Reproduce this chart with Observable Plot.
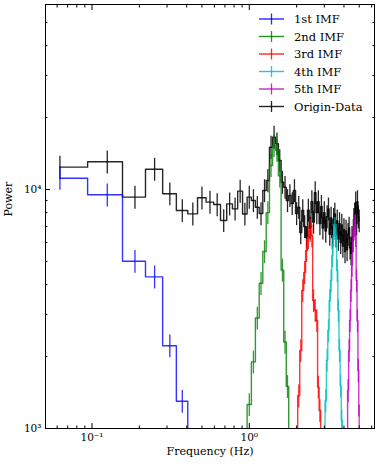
<!DOCTYPE html>
<html>
<head>
<meta charset="utf-8">
<script src="https://cdn.jsdelivr.net/npm/d3@7"></script>
<script src="https://cdn.jsdelivr.net/npm/@observablehq/plot@0.6"></script>
<style>
  html, body { margin: 0; padding: 0; background: #fff; }
  svg { display: block; }
</style>
</head>
<body>
<div id="chart"></div>
<script>
// ---- Data ----
const freqData = [0.0625,0.125,0.1875,0.25,0.3125,0.375,0.4375,0.5,0.5625,0.625,0.6875,0.75,0.8125,0.875,0.9375,1.0,
  1.0625,1.125,1.1875,1.25,1.3125,1.375,1.4375,1.5,1.5625,1.625,1.6875,1.75,1.8125,1.875,1.9375,2.0,
  2.0625,2.125,2.1875,2.25,2.3125,2.375,2.4375,2.5,2.5625,2.625,2.6875,2.75,2.8125,2.875,2.9375,3.0,
  3.0625,3.125,3.1875,3.25,3.3125,3.375,3.4375,3.5,3.5625,3.625,3.6875,3.75,3.8125,3.875,3.9375,4.0,
  4.0625,4.125,4.1875,4.25,4.3125,4.375,4.4375,4.5,4.5625,4.625,4.6875,4.75,4.8125,4.875,4.9375,5.0];
const powerData = [12400,13060,9290,12160,9600,8170,7910,9230,8850,8650,7420,8710,8300,9840,7900,9290,
  8990,8430,7930,9900,10900,15030,16550,15540,13220,10730,10220,8990,9440,8740,9900,7930,
  8430,6600,8170,7000,6300,8200,6900,8900,7300,9700,8000,8900,7200,8500,6900,8000,
  6700,7700,8300,6500,7600,6300,7500,7900,6400,7400,6200,7200,6000,7100,5800,6800,
  5500,6700,5600,6500,6900,5700,5400,6300,6100,7500,7900,8800,7200,8900,7700,7400];

const freqImf1 = [0.0625,0.125,0.1875,0.25,0.3125,0.375,0.4375,0.5];
const powerImf1 = [11150,9500,5010,4310,2220,1300,600,350];

const freqImf2 = [0.9375,1.0,1.0625,1.125,1.1875,1.25,1.3125,1.375,1.4375,1.5,1.5625,1.625,1.6875,1.75,1.8125];
const powerImf2 = [700,1260,1900,2900,4050,5500,8000,12600,15300,14600,11400,4600,2300,1500,700];

const freqImf3 = [2.0,2.0625,2.125,2.1875,2.25,2.3125,2.375,2.4375,2.5,2.5625,2.625,2.6875,2.75,2.8125,2.875];
const powerImf3 = [700,1370,2120,3780,4500,5560,6300,6740,6400,3430,3120,2830,1490,1190,700];

const freqImf4 = [3.0,3.0625,3.125,3.1875,3.25,3.3125,3.375,3.4375,3.5,3.5625,3.625,3.6875,3.75,3.8125,3.875,3.9375];
const powerImf4 = [700,1310,1930,2570,3430,4160,5290,6430,6870,6430,4580,3120,2120,1510,1080,700];

const freqImf5 = [4.1875,4.25,4.3125,4.375,4.4375,4.5,4.5625,4.625,4.6875,4.75,4.8125,4.875,4.9375,5.0];
const powerImf5 = [700,1440,2120,2830,3780,4810,6120,6870,7070,6430,4160,2830,1750,1130];

const errFraction = 0.11;   // relative error of each power estimate

const seriesNames = ["1st IMF","2nd IMF","3rd IMF","4th IMF","5th IMF","Origin-Data"];
const seriesColors = ["#0000ff","#008000","#ff0000","#00bfbf","#bf00bf","#000000"];

const xMajorTicks = [0.1, 1];
const xMinorTicks = [0.06,0.07,0.08,0.09,0.2,0.3,0.4,0.5,0.6,0.7,0.8,0.9,2,3,4,5,6];
const yMajorTicks = [1000, 10000];
const yMinorTicks = [2000,3000,4000,5000,6000,7000,8000,9000,20000,30000,40000,50000];
const tickLabels = {0.1: "10\u207B\u00B9", 1: "10\u2070", 1000: "10\u00B3", 10000: "10\u2074"};

// ---- Build tables ----
// matplotlib "steps-mid": steps placed at the data-space midpoint between samples
function stepTable(freqs, vals, name) {
  const out = [];
  for (let i = 0; i < vals.length; i++) {
    const a = i === 0 ? freqs[i] : (freqs[i - 1] + freqs[i]) / 2;
    const b = i === vals.length - 1 ? freqs[i] : (freqs[i] + freqs[i + 1]) / 2;
    out.push({x: a, y: vals[i], name}, {x: b, y: vals[i], name});
  }
  return out;
}
function errTable(freqs, vals, name) {
  return vals.map((v, i) => ({x: freqs[i], lo: v * (1 - errFraction), hi: v * (1 + errFraction), name}));
}
const allSeries = [
  [freqImf1, powerImf1], [freqImf2, powerImf2], [freqImf3, powerImf3],
  [freqImf4, powerImf4], [freqImf5, powerImf5], [freqData, powerData]
];
// draw order: origin data first, then IMFs on top
const drawOrder = [5, 0, 1, 2, 3, 4];
const dataMarks = [];
for (const idx of drawOrder) {
  const [f, v] = allSeries[idx];
  const color = seriesColors[idx];
  const op = idx === 5 ? 0.85 : 0.8;
  dataMarks.push(Plot.ruleX(errTable(f, v, seriesNames[idx]), {x: "x", y1: "lo", y2: "hi", stroke: color, strokeOpacity: op, strokeWidth: 1.3, clip: true}));
  dataMarks.push(Plot.line(stepTable(f, v, seriesNames[idx]), {x: "x", y: "y", stroke: color, strokeOpacity: op, strokeWidth: 1.4, clip: true}));
}

const chart = Plot.plot({
  width: 378,
  height: 465,
  marginLeft: 45,
  marginRight: 4,
  marginTop: 4,
  marginBottom: 37,
  style: {fontFamily: "'DejaVu Serif', serif", fontSize: "10px", background: "#fff", color: "#000"},
  x: {type: "log", domain: [0.0506, 6.255]},
  y: {type: "log", domain: [1000, 59430]},
  marks: [
    ...dataMarks,
    // inward ticks on all four sides
    Plot.axisX({anchor: "bottom", ticks: xMajorTicks, tickSize: 5, dy: -5, fill: "none"}),
    Plot.axisX({anchor: "bottom", ticks: xMinorTicks, tickSize: 2.5, dy: -2.5, fill: "none"}),
    Plot.axisX({anchor: "top", ticks: xMajorTicks, tickSize: 5, dy: 5, fill: "none"}),
    Plot.axisX({anchor: "top", ticks: xMinorTicks, tickSize: 2.5, dy: 2.5, fill: "none"}),
    Plot.axisY({anchor: "left", ticks: yMajorTicks, tickSize: 5, dx: 5, fill: "none"}),
    Plot.axisY({anchor: "left", ticks: yMinorTicks, tickSize: 2.5, dx: 2.5, fill: "none"}),
    Plot.axisY({anchor: "right", ticks: yMajorTicks, tickSize: 5, dx: -5, fill: "none"}),
    Plot.axisY({anchor: "right", ticks: yMinorTicks, tickSize: 2.5, dx: -2.5, fill: "none"}),
    // tick labels
    Plot.axisX({anchor: "bottom", ticks: xMajorTicks, tickSize: 0, tickPadding: 5, tickFormat: d => tickLabels[d], label: null, fontSize: 10.5}),
    Plot.axisY({anchor: "left", ticks: yMajorTicks, tickSize: 0, tickPadding: 4, tickFormat: d => tickLabels[d], label: null, fontSize: 10.5}),
    // axis titles
    Plot.text(["Frequency (Hz)"], {frameAnchor: "bottom", dy: 26, fontSize: 11}),
    Plot.text(["Power"], {frameAnchor: "left", dx: -37, rotate: -90, fontSize: 11}),
    Plot.frame({stroke: "#000", strokeWidth: 1})
  ]
});
document.getElementById("chart").appendChild(chart);

// ---- Legend (upper right, inside the axes) ----
const svg = d3.select(chart);
const lg = svg.append("g").attr("font-family", "'DejaVu Serif', serif").attr("font-size", 11.5).attr("text-anchor", "start");
seriesNames.forEach((name, i) => {
  const yy = 19 + i * 17.5;
  const c = seriesColors[i];
  lg.append("line").attr("x1", 259).attr("x2", 284).attr("y1", yy).attr("y2", yy)
    .attr("stroke", c).attr("stroke-opacity", 0.85).attr("stroke-width", 1.4);
  lg.append("line").attr("x1", 271.5).attr("x2", 271.5).attr("y1", yy - 5.5).attr("y2", yy + 5.5)
    .attr("stroke", c).attr("stroke-opacity", 0.85).attr("stroke-width", 1.3);
  lg.append("text").attr("x", 294).attr("y", yy).attr("dy", "0.35em").attr("text-anchor", "start").attr("fill", "#000").text(name);
});
</script>
</body>
</html>
